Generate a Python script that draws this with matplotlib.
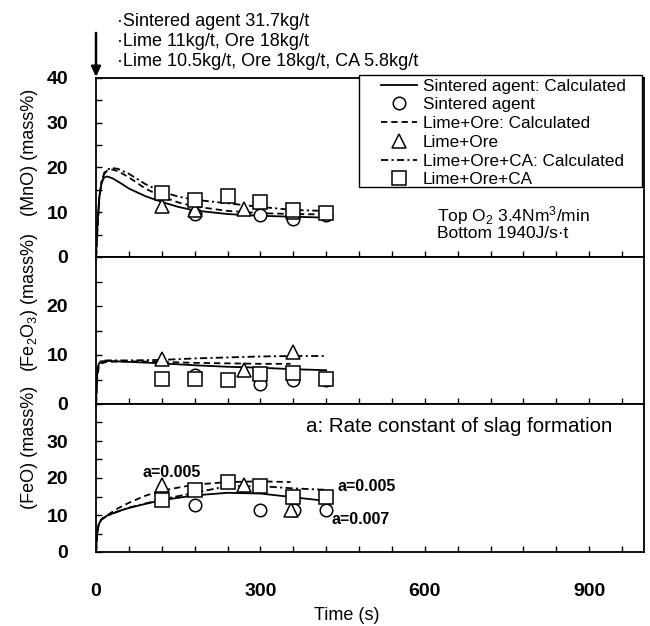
import matplotlib
matplotlib.use("Agg")
import matplotlib.pyplot as plt
from matplotlib.ticker import MultipleLocator
from matplotlib.lines import Line2D
from matplotlib.patches import Rectangle, FancyArrowPatch

plt.rcParams['font.family'] = ['Liberation Sans', 'DejaVu Sans']
plt.rcParams['mathtext.fontset'] = 'custom'
plt.rcParams['mathtext.rm'] = 'Liberation Sans'
plt.rcParams['mathtext.it'] = 'Liberation Sans:italic'

# ---------------- data ----------------
# MnO panel: calculated curves
t_mno_sint = [0, 3, 6, 10, 15, 20, 30, 45, 60, 90, 120, 150, 180, 240, 300, 360, 420]
mno_sint = [0, 8, 13.5, 16.5, 17.8, 18.0, 17.6, 16.5, 15.3, 13.6, 12.3, 11.2, 10.4, 9.6, 9.2, 9.0, 8.8]
t_mno_lo = [0, 3, 6, 10, 15, 20, 28, 40, 60, 90, 120, 150, 180, 240, 300, 360, 420]
mno_lo = [0, 7, 13, 16.5, 18.5, 19.3, 19.6, 19.2, 17.8, 15.3, 13.5, 12.2, 11.3, 10.3, 9.8, 9.6, 9.5]
t_mno_ca = [0, 3, 6, 10, 15, 20, 28, 40, 60, 90, 120, 150, 180, 240, 300, 360, 420]
mno_ca = [0, 7, 13, 16.8, 18.8, 19.5, 19.9, 19.7, 18.6, 16.3, 14.6, 13.5, 12.8, 12.0, 11.2, 10.5, 10.3]
# MnO panel: measured
t_mno_circ = [180, 300, 360, 420]
mno_circ = [9.6, 9.3, 8.6, 9.3]
t_mno_tri = [120, 180, 270, 360]
mno_tri = [11.3, 10.4, 10.8, 10.0]
t_mno_sq = [120, 180, 240, 300, 360, 420]
mno_sq = [14.2, 12.7, 13.6, 12.3, 10.6, 9.9]

# Fe2O3 panel: calculated curves
t_fe2_sint = [0, 2, 5, 10, 20, 60, 120, 180, 240, 300, 360, 420]
fe2_sint = [0, 6, 8.2, 8.7, 8.8, 8.6, 8.3, 7.9, 7.6, 7.4, 7.1, 6.9]
t_fe2_lo = [0, 2, 5, 10, 20, 60, 120, 180, 240, 300, 355]
fe2_lo = [0, 5, 7.5, 8.3, 8.6, 8.7, 8.6, 8.4, 8.3, 8.2, 8.2]
t_fe2_ca = [0, 2, 5, 10, 20, 60, 120, 180, 240, 300, 360, 420]
fe2_ca = [0, 6, 8.3, 8.8, 8.9, 8.9, 9.0, 9.3, 9.5, 9.7, 9.8, 9.8]
# Fe2O3 panel: measured
t_fe2_circ = [180, 300, 360, 420]
fe2_circ = [5.9, 4.0, 5.0, 4.8]
t_fe2_tri = [120, 270, 360]
fe2_tri = [9.1, 6.9, 10.7]
t_fe2_sq = [120, 180, 240, 300, 360, 420]
fe2_sq = [5.2, 5.2, 5.0, 6.1, 6.4, 5.1]

# FeO panel: calculated curves
t_feo_sint = [0, 2, 5, 10, 20, 40, 60, 90, 120, 180, 240, 300, 360, 420]
feo_sint = [0, 5, 7.5, 8.8, 9.8, 11.0, 11.9, 13.0, 14.0, 15.3, 16.0, 15.8, 14.8, 13.8]
t_feo_lo = [0, 2, 5, 10, 20, 40, 60, 90, 120, 180, 240, 300, 355]
feo_lo = [0, 5, 7.5, 8.8, 9.9, 11.8, 13.3, 15.2, 16.6, 18.2, 18.9, 19.1, 18.9]
t_feo_ca = [0, 2, 5, 10, 20, 60, 120, 180, 240, 300, 360, 420]
feo_ca = [0, 5, 7.5, 8.8, 9.8, 12.0, 14.2, 16.0, 17.8, 17.8, 17.2, 16.8]
# FeO panel: measured
t_feo_circ = [180, 300, 362, 420]
feo_circ = [12.7, 11.4, 11.3, 11.4]
t_feo_tri = [120, 270, 355]
feo_tri = [18.1, 18.1, 11.4]
t_feo_sq = [120, 180, 240, 300, 360, 420]
feo_sq = [14.1, 16.8, 18.8, 17.9, 14.9, 14.9]

legend_labels = ["Sintered agent: Calculated", "Sintered agent",
                 "Lime+Ore: Calculated", "Lime+Ore",
                 "Lime+Ore+CA: Calculated", "Lime+Ore+CA"]
conditions = ["\u00b7Sintered agent 31.7kg/t",
              "\u00b7Lime 11kg/t, Ore 18kg/t",
              "\u00b7Lime 10.5kg/t, Ore 18kg/t, CA 5.8kg/t"]
y_labels = [r"(MnO) (mass%)", r"(Fe$_2$O$_3$) (mass%)", r"(FeO) (mass%)"]

# ---------------- figure ----------------
W, H = 650, 626
fig = plt.figure(figsize=(W / 100, H / 100), dpi=100)

def fx(px):
    return px / W

def fy(py):
    return 1 - py / H

left, right = 96, 644
ax1 = fig.add_axes([fx(left), fy(257), fx(right - left), fy(78) - fy(257)])
ax2 = fig.add_axes([fx(left), fy(404), fx(right - left), fy(257) - fy(404)])
ax3 = fig.add_axes([fx(left), fy(552), fx(right - left), fy(404) - fy(552)])

LW = 1.3
DASH = (0, (3.5, 2.2))
DASHDOT = (0, (4, 1.8, 1.2, 1.8))
mk = dict(color='black', markerfacecolor='white', markeredgecolor='black',
          markeredgewidth=1.1, linestyle='none', zorder=5)

def draw(ax, ts, s, tl, l, tc, c, tcir, cir, ttri, tri, tsq, sq):
    ax.plot(ts, s, color='black', lw=LW, ls='-', zorder=3)
    ax.plot(tl, l, color='black', lw=LW, ls=DASH, zorder=3)
    ax.plot(tc, c, color='black', lw=LW, ls=DASHDOT, zorder=3)
    ax.plot(tcir, cir, marker='o', markersize=9, **mk)
    ax.plot(ttri, tri, marker='^', markersize=10, **mk)
    ax.plot(tsq, sq, marker='s', markersize=10, **mk)

draw(ax1, t_mno_sint, mno_sint, t_mno_lo, mno_lo, t_mno_ca, mno_ca,
     t_mno_circ, mno_circ, t_mno_tri, mno_tri, t_mno_sq, mno_sq)
draw(ax2, t_fe2_sint, fe2_sint, t_fe2_lo, fe2_lo, t_fe2_ca, fe2_ca,
     t_fe2_circ, fe2_circ, t_fe2_tri, fe2_tri, t_fe2_sq, fe2_sq)
draw(ax3, t_feo_sint, feo_sint, t_feo_lo, feo_lo, t_feo_ca, feo_ca,
     t_feo_circ, feo_circ, t_feo_tri, feo_tri, t_feo_sq, feo_sq)

ylims = [(0, 40), (0, 30), (0, 40)]
ymaj = [[0, 10, 20, 30, 40], [0, 10, 20], [0, 10, 20, 30]]
for ax, yl, ym in zip([ax1, ax2, ax3], ylims, ymaj):
    ax.set_xlim(0, 1000)
    ax.set_ylim(*yl)
    ax.set_yticks(ym)
    ax.yaxis.set_minor_locator(MultipleLocator(5))
    ax.set_xticks([0, 300, 600, 900])
    ax.xaxis.set_minor_locator(MultipleLocator(60))
    ax.tick_params(axis='both', which='both', direction='in', length=4, width=1.0,
                   top=False, right=False)
    ax.tick_params(axis='y', which='major', pad=20, labelsize=14)
    for lab in ax.get_yticklabels():
        lab.set_fontweight('bold')
    for sp in ax.spines.values():
        sp.set_linewidth(1.3)
for ax in [ax1, ax2]:
    ax.tick_params(axis='x', which='both', labelbottom=False)
ax3.tick_params(axis='x', which='major', pad=22, labelsize=14)
for lab in ax3.get_xticklabels():
    lab.set_fontweight('bold')

# y labels
for lab, yc in zip(y_labels, [152, 302, 447]):
    fig.text(fx(30), fy(yc), lab, rotation=90, ha='center', va='center', fontsize=13)

fig.text(fx(347), fy(616), "Time (s)", ha='center', va='center', fontsize=13)

# condition text and arrow
for txt, yy in zip(conditions, [22, 42, 61]):
    fig.text(fx(117), fy(yy), txt, ha='left', va='center', fontsize=13)
fig.add_artist(FancyArrowPatch(
    (fx(96), fy(33)), (fx(96), fy(77)), transform=fig.transFigure,
    arrowstyle='-|>,head_length=6,head_width=2.8', color='black', lw=1.8,
    shrinkA=0, shrinkB=0))

# legend (frame drawn as a rectangle, entries placed inside)
frame = Rectangle((fx(359), fy(187)), fx(642) - fx(359), fy(75) - fy(187),
                  transform=fig.transFigure, facecolor='white', edgecolor='black',
                  lw=1.0, zorder=9)
fig.add_artist(frame)
handles = [Line2D([], [], color='black', lw=LW, ls='-'),
           Line2D([], [], marker='o', markersize=9, **mk),
           Line2D([], [], color='black', lw=LW, ls=DASH),
           Line2D([], [], marker='^', markersize=10, **mk),
           Line2D([], [], color='black', lw=LW, ls=DASHDOT),
           Line2D([], [], marker='s', markersize=10, **mk)]
leg = fig.legend(handles, legend_labels, loc='upper left',
                 bbox_to_anchor=(fx(381), fy(78.5)), borderaxespad=0,
                 fontsize=12.3, frameon=False, handlelength=2.1, handletextpad=0.35,
                 labelspacing=0.22, borderpad=0.0)
leg.set_zorder(10)

# panel annotations
ax1.text(622, 9.3, r"Top O$_2$ 3.4Nm$^3$/min", ha='left', va='center', fontsize=12.5)
ax1.text(622, 5.3, "Bottom 1940J/s\u00b7t", ha='left', va='center', fontsize=12.5)
ax3.text(383, 33.8, "a: Rate constant of slag formation", ha='left', va='center', fontsize=14.8)
ax3.text(84, 21.4, "a=0.005", ha='left', va='center', fontsize=11.5, fontweight='bold')
ax3.text(440, 17.6, "a=0.005", ha='left', va='center', fontsize=11.5, fontweight='bold')
ax3.text(430, 8.9, "a=0.007", ha='left', va='center', fontsize=11.5, fontweight='bold')

fig.savefig("out.png", dpi=100)
